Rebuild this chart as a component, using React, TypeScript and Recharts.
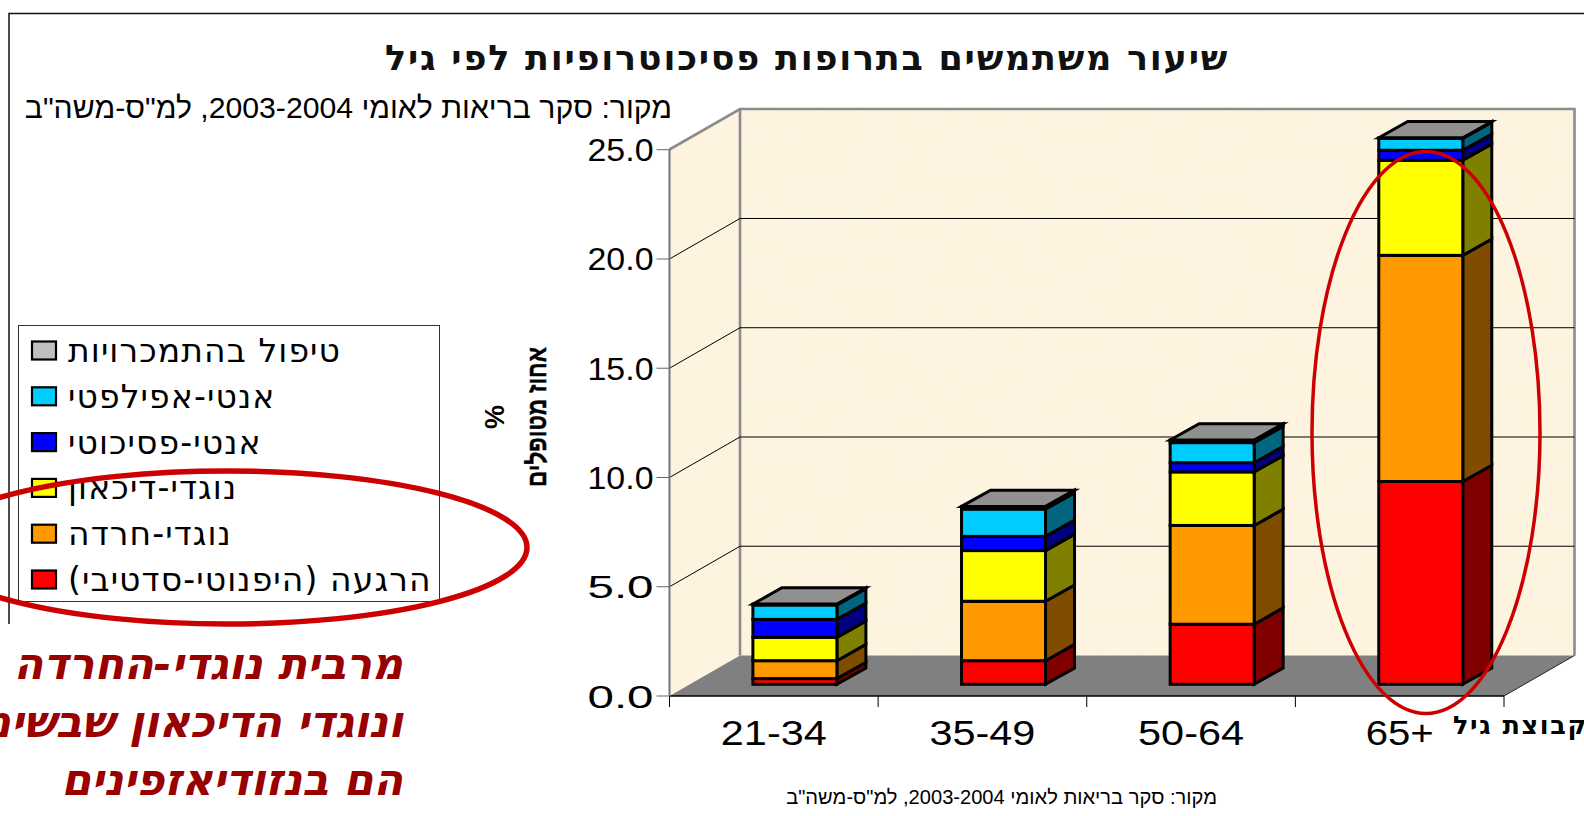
import React from "react";
import { BarChart, Bar, XAxis, YAxis, CartesianGrid, Legend } from "recharts";

const ageGroups = ["21-34", "35-49", "50-64", "65+"];
const hypnoticSedative = [0.26, 1.08, 2.75, 9.28];
const antiAnxiety = [0.82, 2.72, 4.52, 10.35];
const antiDepressant = [1.07, 2.32, 2.45, 4.35];
const antiPsychotic = [0.82, 0.65, 0.42, 0.46];
const antiEpileptic = [0.66, 1.25, 0.92, 0.54];
const addictionCare = [0.04, 0.12, 0.12, 0.03];
const yTicks = [0, 5, 10, 15, 20, 25];

const seriesNames = [
  "הרגעה (היפנוטי-סדטיבי)",
  "נוגדי-חרדה",
  "נוגדי-דיכאון",
  "אנטי-פסיכוטי",
  "אנטי-אפילפטי",
  "טיפול בהתמכרויות",
];
const seriesKeys = ["hypnotic", "anxiety", "depressant", "psychotic", "epileptic", "addiction"];
const seriesFills = ["#FF0000", "#FF9900", "#FFFF00", "#0000FF", "#00CCFF", "#C0C0C0"];
const seriesSides = ["#800000", "#804C00", "#808000", "#000080", "#006680", "#606060"];

const chartData = ageGroups.map((age, i) => ({
  age,
  hypnotic: hypnoticSedative[i],
  anxiety: antiAnxiety[i],
  depressant: antiDepressant[i],
  psychotic: antiPsychotic[i],
  epileptic: antiEpileptic[i],
  addiction: addictionCare[i],
}));

const W = 1584;
const H = 816;
const LEFT = 669.5;
const RIGHT = 1504;
const TOP = 149.5;
const BOTTOM = 696;
const DEPTH_X = 70.5;
const DEPTH_Y = 40.5;
const BAND = (RIGHT - LEFT) / ageGroups.length;
const BAR_SHIFT_X = 21.4;
const BAR_SHIFT_Y = 11.7;
const BAR_DEPTH_X = 29;
const BAR_DEPTH_Y = 16.3;
const BAR_W = 84;

const SANS = "'Liberation Sans', Arial, sans-serif";
const WIDE = "'DejaVu Sans', Verdana, sans-serif";

function makeBarShape(seriesIndex: number) {
  return function BarShape(p: any) {
    const x = p.x + BAR_SHIFT_X;
    const y = p.y - BAR_SHIFT_Y;
    const w = p.width;
    const h = p.height;
    const isTop = seriesIndex === seriesKeys.length - 1;
    const common = { stroke: "#000", strokeWidth: 3, strokeLinejoin: "miter" as const };
    return (
      <g>
        <polygon
          points={`${x + w},${y} ${x + w + BAR_DEPTH_X},${y - BAR_DEPTH_Y} ${x + w + BAR_DEPTH_X},${y + h - BAR_DEPTH_Y} ${x + w},${y + h}`}
          fill={seriesSides[seriesIndex]}
          {...common}
        />
        <rect x={x} y={y} width={w} height={h} fill={p.fill} {...common} />
        {isTop && (
          <polygon
            points={`${x},${y} ${x + BAR_DEPTH_X},${y - BAR_DEPTH_Y} ${x + w + BAR_DEPTH_X},${y - BAR_DEPTH_Y} ${x + w},${y}`}
            fill="#909090"
            {...common}
          />
        )}
      </g>
    );
  };
}

function GridLine(p: any) {
  if (Math.abs(p.y1 - TOP) < 1 || Math.abs(p.y1 - BOTTOM) < 1) return <g />;
  return (
    <polyline
      points={`${LEFT},${p.y1} ${LEFT + DEPTH_X},${p.y1 - DEPTH_Y} ${RIGHT + DEPTH_X},${p.y1 - DEPTH_Y}`}
      fill="none"
      stroke="#000"
      strokeWidth={1}
    />
  );
}

function YTick(p: any) {
  return (
    <text
      x={p.x - 1}
      y={p.y + 11.5}
      textAnchor="end"
      fontFamily={SANS}
      fontSize={32}
      fill="#000"
      textLength={66}
      lengthAdjust="spacingAndGlyphs"
    >
      {Number(p.payload.value).toFixed(1)}
    </text>
  );
}

function XTick(p: any) {
  const cx = p.x;
  const base = BOTTOM;
  const last = p.index === ageGroups.length - 1;
  return (
    <g>
      <line x1={cx - BAND / 2} x2={cx - BAND / 2} y1={base} y2={base + 11} stroke="#000" strokeWidth={1} />
      {last && <line x1={cx + BAND / 2} x2={cx + BAND / 2} y1={base} y2={base + 11} stroke="#000" strokeWidth={1} />}
      <text
        x={cx}
        y={base + 49}
        textAnchor="middle"
        fontFamily={SANS}
        fontSize={35}
        fill="#000"
        textLength={p.payload.value === "65+" ? 68 : 106}
        lengthAdjust="spacingAndGlyphs"
      >
        {p.payload.value}
      </text>
    </g>
  );
}

function LegendBox(p: any) {
  const items = [...(p.payload || [])].reverse();
  const rowH = 45.8;
  return (
    <svg width={422} height={277} style={{ display: "block" }}>
      <rect x={0.5} y={0.5} width={421} height={276} fill="#fff" stroke="#333" strokeWidth={1} />
      {items.map((it: any, i: number) => {
        const cy = 25.5 + i * rowH;
        return (
          <g key={it.value}>
            <rect x={14} y={cy - 9} width={24} height={18} fill={it.color} stroke="#000" strokeWidth={2.2} />
            <text
              x={50}
              y={cy + 11.5}
              textAnchor="end"
              style={{ direction: "rtl", letterSpacing: 1.1 }}
              fontFamily={WIDE}
              fontSize={33}
              fill="#000"
            >
              {it.value}
            </text>
          </g>
        );
      })}
    </svg>
  );
}

function Underlay() {
  const bx = LEFT + DEPTH_X;
  const bTop = TOP - DEPTH_Y;
  const bBot = BOTTOM - DEPTH_Y;
  const bR = RIGHT + DEPTH_X;
  return (
    <svg width={W} height={H} style={{ position: "absolute", left: 0, top: 0 }}>
      <defs>
        <filter id="parchment" x="0" y="0" width="100%" height="100%">
          <feTurbulence type="fractalNoise" baseFrequency="0.02 0.035" numOctaves={4} seed={7} />
          <feColorMatrix
            type="matrix"
            values="0 0 0 0 0.98  0 0 0 0 0.92  0 0 0 0 0.74  4.5 0 0 0 -1.9"
          />
        </filter>
      </defs>
      <path d={`M9 624 V13.5 H${W}`} fill="none" stroke="#111" strokeWidth={1.5} />
      <polygon points={`${LEFT},${TOP} ${bx},${bTop} ${bx},${bBot} ${LEFT},${BOTTOM}`} fill="#FDF3DF" />
      <rect x={bx} y={bTop} width={bR - bx} height={bBot - bTop} fill="#FDF3E0" />
      <rect x={bx} y={bTop} width={bR - bx} height={bBot - bTop} filter="url(#parchment)" opacity={0.6} />
      <polygon points={`${LEFT},${BOTTOM} ${bx},${bBot} ${bR},${bBot} ${RIGHT},${BOTTOM}`} fill="#808080" />
      <polyline
        points={`${LEFT},${TOP} ${bx},${bTop} ${bR},${bTop} ${bR},${bBot}`}
        fill="none"
        stroke="#8C8C8C"
        strokeWidth={2.6}
      />
      <line x1={bx} x2={bx} y1={bTop} y2={bBot} stroke="#8C8C8C" strokeWidth={2.6} />
      <line x1={RIGHT} y1={BOTTOM} x2={bR} y2={bBot} stroke="#222" strokeWidth={1} />
    </svg>
  );
}

function Overlay() {
  return (
    <svg width={W} height={H} style={{ position: "absolute", left: 0, top: 0, pointerEvents: "none" }}>
      <text
        x={1229}
        y={70}
        textAnchor="start"
        style={{ direction: "rtl", letterSpacing: 1.75 }}
        fontFamily={WIDE}
        fontWeight={700}
        fontSize={35}
        fill="#111"
      >
        שיעור משתמשים בתרופות פסיכוטרופיות לפי גיל
      </text>
      <text x={672} y={118} textAnchor="start" style={{ direction: "rtl" }} fontFamily={SANS} fontSize={30.2} fill="#000">
        מקור: סקר בריאות לאומי 2003-2004, למ"ס-משה"ב
      </text>
      <text x={1217} y={804} textAnchor="start" style={{ direction: "rtl" }} fontFamily={SANS} fontSize={20.1} fill="#000">
        מקור: סקר בריאות לאומי 2003-2004, למ"ס-משה"ב
      </text>
      <text x={1453} y={734} textAnchor="end" style={{ direction: "rtl", letterSpacing: 1.6 }} fontFamily={WIDE} fontWeight={700} fontSize={25.5} fill="#000">
        קבוצת גיל
      </text>
      <text
        transform="translate(504,417) rotate(-90)"
        textAnchor="middle"
        fontFamily={SANS}
        fontWeight={700}
        fontSize={27}
        fill="#000"
      >
        %
      </text>
      <text
        transform="translate(546,417) rotate(-90)"
        textAnchor="middle"
        style={{ direction: "rtl" }}
        fontFamily={SANS}
        fontWeight={700}
        fontSize={27}
        fill="#000"
        stroke="#000"
        strokeWidth={0.5}
        textLength={140}
        lengthAdjust="spacingAndGlyphs"
      >
        אחוז מטופלים
      </text>
      {[
        ["מרבית נוגדי-החרדה", 679],
        ["ונוגדי הדיכאון שבשימוש", 737],
        ["הם בנזודיאזפינים", 795],
      ].map(([line, y]) => (
        <text
          key={String(line)}
          x={403}
          y={Number(y)}
          textAnchor="start"
          style={{ direction: "rtl" }}
          fontFamily={WIDE}
          fontWeight={700}
          fontStyle="italic"
          fontSize={43}
          fill="#990000"
        >
          {line}
        </text>
      ))}
      <ellipse cx={227} cy={547.5} rx={300} ry={76.5} fill="none" stroke="#CC0000" strokeWidth={5.5} />
      <ellipse cx={1426} cy={432.5} rx={114} ry={281} fill="none" stroke="#CC0000" strokeWidth={3.5} />
    </svg>
  );
}

export default function App() {
  return (
    <div style={{ position: "fixed", left: 0, top: 0, width: W, height: H, overflow: "hidden", background: "#fff" }}>
      <Underlay />
      <div style={{ position: "absolute", left: 0, top: 0 }}>
        <BarChart
          width={W}
          height={H}
          data={chartData}
          margin={{ left: LEFT - 70, right: W - RIGHT, top: TOP, bottom: H - BOTTOM - 60 }}
          barSize={BAR_W}
        >
          <CartesianGrid vertical={false} horizontal={GridLine as any} />
          <XAxis
            dataKey="age"
            height={60}
            tick={XTick as any}
            tickLine={false}
            axisLine={{ stroke: "#000", strokeWidth: 1.5 }}
            interval={0}
          />
          <YAxis
            width={70}
            domain={[0, 25]}
            ticks={yTicks}
            interval={0}
            tick={YTick as any}
            tickSize={13}
            tickLine={{ stroke: "#666" }}
            axisLine={{ stroke: "#777", strokeWidth: 2 }}
          />
          <Legend
            layout="vertical"
            align="center"
            verticalAlign="middle"
            itemSorter={null as any}
            content={LegendBox as any}
            wrapperStyle={{ left: 18, top: 325, width: 422, height: 277 }}
          />
          {seriesKeys.map((k, i) => (
            <Bar
              key={k}
              dataKey={k}
              name={seriesNames[i]}
              stackId="a"
              fill={seriesFills[i]}
              isAnimationActive={false}
              shape={makeBarShape(i) as any}
            />
          ))}
        </BarChart>
      </div>
      <Overlay />
    </div>
  );
}
